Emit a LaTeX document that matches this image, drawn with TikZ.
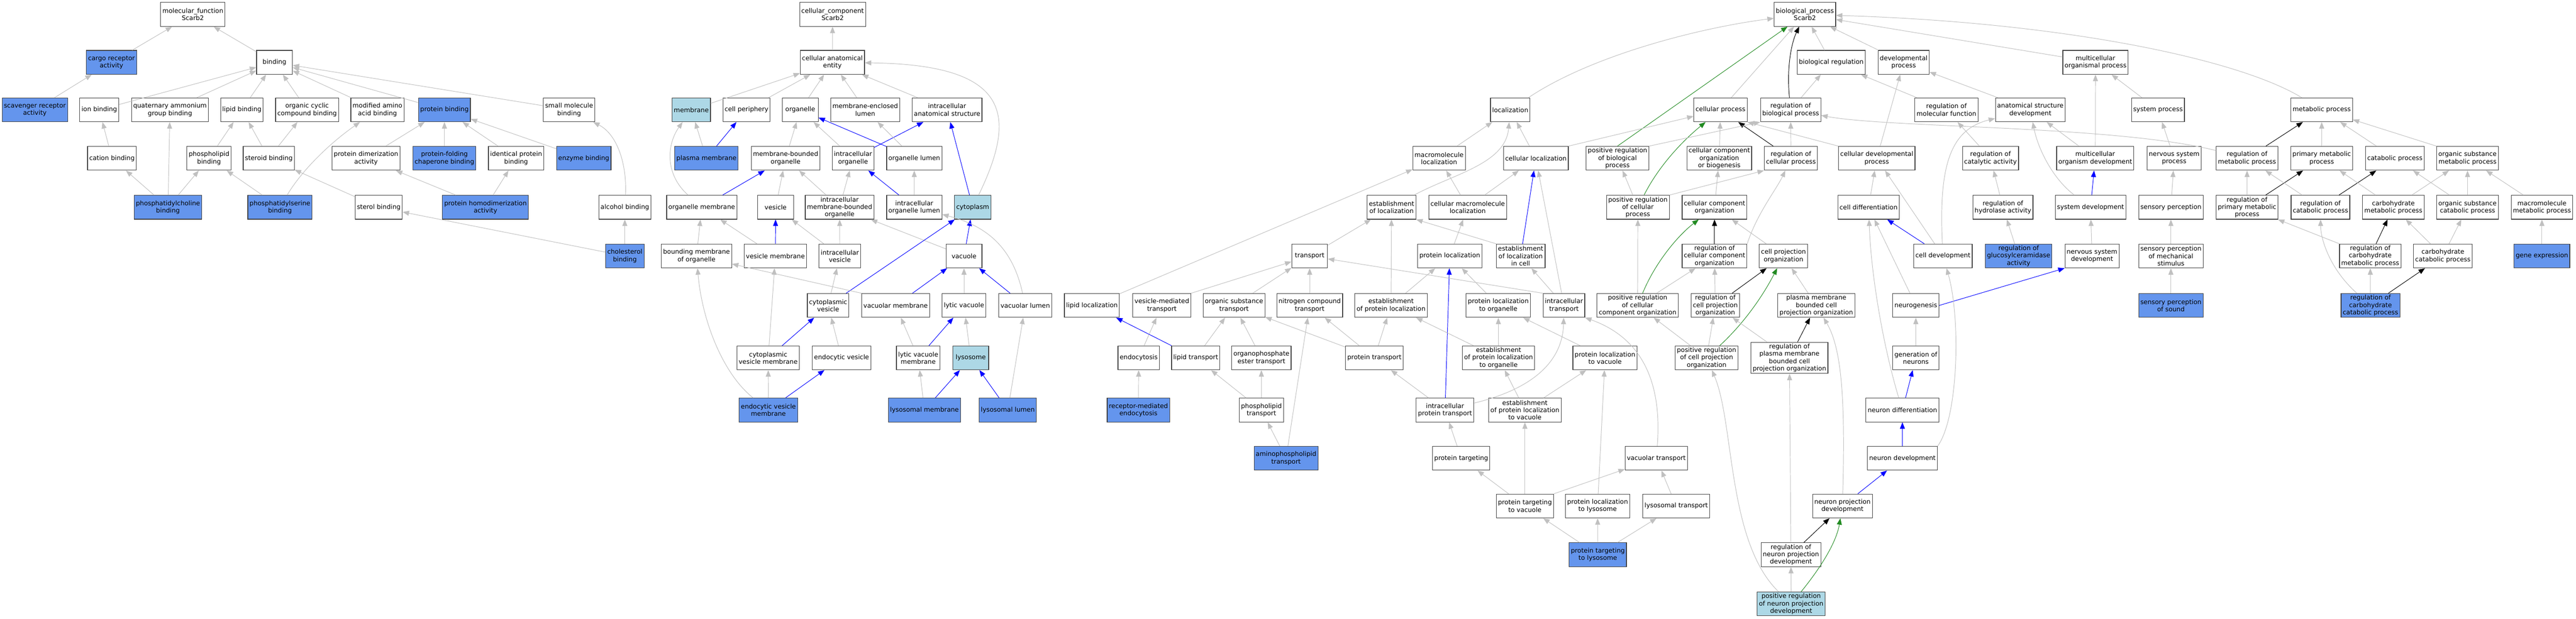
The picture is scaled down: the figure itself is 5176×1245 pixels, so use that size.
\documentclass[tikz,border=0pt]{standalone}
\usepackage{fontspec}
\setmainfont{DejaVu Sans}
\usepackage{xcolor}
\usetikzlibrary{arrows.meta}
\definecolor{hitblue}{RGB}{100,149,237}
\definecolor{seedblue}{RGB}{173,216,230}
\definecolor{edgegray}{RGB}{192,192,192}
\definecolor{forest}{RGB}{34,139,34}

\begin{document}
\begin{tikzpicture}[x=1pt,y=1pt,yscale=-1,xscale=1,
	term/.style={draw=black!75, line width=1.2pt, fill=white, minimum width=72pt, minimum height=48pt, inner xsep=3.5pt, inner ysep=3pt, align=center, font=\fontsize{12.8}{14.7}\selectfont},
	hit/.style={term, fill=hitblue},
	seed/.style={term, fill=seedblue},
	isa/.style={edgegray, line width=1pt, -{Triangle[length=13pt,width=10pt]}},
	partof/.style={isa, blue},
	regs/.style={isa, black},
	posreg/.style={isa, forest}]
	%set diagram size: 5176 x 1245
	\useasboundingbox[fill=white] (0,0) rectangle (5176,1245);
	
	% Text Nodes -- molecular function
	\node[term] (mf) at (387.5,29) {molecular\_function\\Scarb2};
	\node[hit] (cargo) at (224,125.5) {cargo receptor\\activity};
	\node[term] (bind) at (551.5,125.5) {binding};
	\node[hit] (scav) at (70,221) {scavenger receptor\\activity};
	\node[term] (ionb) at (199.5,221) {ion binding};
	\node[term] (quat) at (341.5,221) {quaternary ammonium\\group binding};
	\node[term] (lipb) at (486,221) {lipid binding};
	\node[term] (occb) at (617,221) {organic cyclic\\compound binding};
	\node[term] (modaa) at (758.5,221) {modified amino\\acid binding};
	\node[hit] (protb) at (893,221) {protein binding};
	\node[term] (smb) at (1143.5,221) {small molecule\\binding};
	\node[term] (catb) at (225,318.5) {cation binding};
	\node[term] (phlb) at (420,318.5) {phospholipid\\binding};
	\node[term] (stdb) at (540,318.5) {steroid binding};
	\node[term] (pda) at (735.5,318.5) {protein dimerization\\activity};
	\node[hit] (pfcb) at (893,318.5) {protein-folding\\chaperone binding};
	\node[term] (ipb) at (1037,318.5) {identical protein\\binding};
	\node[hit] (enzb) at (1173,318.5) {enzyme binding};
	\node[hit] (pcb) at (337.5,417) {phosphatidylcholine\\binding};
	\node[hit] (psb) at (562.5,417) {phosphatidylserine\\binding};
	\node[term] (strb) at (761,417) {sterol binding};
	\node[hit] (phda) at (975.5,417) {protein homodimerization\\activity};
	\node[term] (alcb) at (1255.5,417) {alcohol binding};
	\node[hit] (cholb) at (1255.5,515) {cholesterol\\binding};
	
	% Text Nodes -- cellular component
	\node[term] (cc) at (1673,29) {cellular\_component\\Scarb2};
	\node[term] (cae) at (1672.5,125.5) {cellular anatomical\\entity};
	\node[seed] (memb) at (1389,221) {membrane};
	\node[term] (cperi) at (1500,221) {cell periphery};
	\node[term] (org) at (1608,221) {organelle};
	\node[term] (mel) at (1738.5,221) {membrane-enclosed\\lumen};
	\node[term] (ias) at (1903,221) {intracellular\\anatomical structure};
	\node[hit] (pm) at (1419.5,318.5) {plasma membrane};
	\node[term] (mbo) at (1578.5,318.5) {membrane-bounded\\organelle};
	\node[term] (io) at (1714,318.5) {intracellular\\organelle};
	\node[term] (ol) at (1837,318.5) {organelle lumen};
	\node[term] (om) at (1410,417) {organelle membrane};
	\node[term] (ves) at (1558.5,417) {vesicle};
	\node[term] (imbo) at (1687,417) {intracellular\\membrane-bounded\\organelle};
	\node[term] (iol) at (1837,417) {intracellular\\organelle lumen};
	\node[seed] (cyto) at (1954.5,417) {cytoplasm};
	\node[term] (bmo) at (1399.5,515) {bounding membrane\\of organelle};
	\node[term] (vm) at (1558,515) {vesicle membrane};
	\node[term] (iv) at (1687.5,515) {intracellular\\vesicle};
	\node[term] (vac) at (1937,515) {vacuole};
	\node[term] (cv) at (1664,614.5) {cytoplasmic\\vesicle};
	\node[term] (vacm) at (1799.5,614.5) {vacuolar membrane};
	\node[term] (lv) at (1937,614.5) {lytic vacuole};
	\node[term] (vacl) at (2060,614.5) {vacuolar lumen};
	\node[term] (cvm) at (1543.5,720) {cytoplasmic\\vesicle membrane};
	\node[term] (ev) at (1691,720) {endocytic vesicle};
	\node[term] (lvm) at (1845,720) {lytic vacuole\\membrane};
	\node[seed] (lys) at (1950.5,720) {lysosome};
	\node[hit] (evm) at (1544,825) {endocytic vesicle\\membrane};
	\node[hit] (lysm) at (1857.5,825) {lysosomal membrane};
	\node[hit] (lysl) at (2025,825) {lysosomal lumen};
	
	% Text Nodes -- biological process
	\node[term] (bp) at (3626.5,29) {biological\_process\\Scarb2};
	\node[term] (breg) at (3679.5,125.5) {biological regulation};
	\node[term] (devp) at (3825,125.5) {developmental\\process};
	\node[term] (mop) at (4210.5,125.5) {multicellular\\organismal process};
	\node[term] (loc) at (3034.5,221) {localization};
	\node[term] (cp) at (3457,221) {cellular process};
	\node[term] (rbp) at (3598,221) {regulation of\\biological process};
	\node[term] (rmf) at (3911,221) {regulation of\\molecular function};
	\node[term] (asd) at (4079.5,221) {anatomical structure\\development};
	\node[term] (sysp) at (4336,221) {system process};
	\node[term] (mp) at (4665,221) {metabolic process};
	\node[term] (macloc) at (2891.5,318.5) {macromolecule\\localization};
	\node[term] (cloc) at (3086,318.5) {cellular localization};
	\node[term] (prbp) at (3250,318.5) {positive regulation\\of biological\\process};
	\node[term] (ccob) at (3454.5,318.5) {cellular component\\organization\\or biogenesis};
	\node[term] (rcp) at (3598.5,318.5) {regulation of\\cellular process};
	\node[term] (cdp) at (3771,318.5) {cellular developmental\\process};
	\node[term] (rca) at (3999.5,318.5) {regulation of\\catalytic activity};
	\node[term] (mod) at (4210,318.5) {multicellular\\organism development};
	\node[term] (nsp) at (4368.5,318.5) {nervous system\\process};
	\node[term] (rmp) at (4515,318.5) {regulation of\\metabolic process};
	\node[term] (pmp) at (4665,318.5) {primary metabolic\\process};
	\node[term] (catp) at (4812,318.5) {catabolic process};
	\node[term] (osmp) at (4958,318.5) {organic substance\\metabolic process};
	\node[term] (estloc) at (2796,417) {establishment\\of localization};
	\node[term] (cmloc) at (2949,417) {cellular macromolecule\\localization};
	\node[term] (pcp) at (3291,417) {positive regulation\\of cellular\\process};
	\node[term] (cco) at (3445,417) {cellular component\\organization};
	\node[term] (cdiff) at (3754.5,417) {cell differentiation};
	\node[term] (rha) at (4024.5,417) {regulation of\\hydrolase activity};
	\node[term] (sysdev) at (4200.5,417) {system development};
	\node[term] (sp) at (4362,417) {sensory perception};
	\node[term] (rpmp) at (4515,417) {regulation of\\primary metabolic\\process};
	\node[term] (rcatp) at (4662.5,417) {regulation of\\catabolic process};
	\node[term] (chmp) at (4809,417) {carbohydrate\\metabolic process};
	\node[term] (oscp) at (4958,417) {organic substance\\catabolic process};
	\node[term] (mmp) at (5107.5,417) {macromolecule\\metabolic process};
	\node[term] (transp) at (2631.5,515) {transport};
	\node[term] (ploc) at (2913,515) {protein localization};
	\node[term] (elc) at (3055.5,515) {establishment\\of localization\\in cell};
	\node[term] (rcco) at (3445,515) {regulation of\\cellular component\\organization};
	\node[term] (cpo) at (3583.5,515) {cell projection\\organization};
	\node[term] (cdev) at (3904,515) {cell development};
	\node[hit] (rga) at (4056,515) {regulation of\\glucosylceramidase\\activity};
	\node[term] (nsd) at (4203.5,515) {nervous system\\development};
	\node[term] (spms) at (4362,515) {sensory perception\\of mechanical\\stimulus};
	\node[term] (rchmp) at (4762.5,515) {regulation of\\carbohydrate\\metabolic process};
	\node[term] (chcp) at (4908.5,515) {carbohydrate\\catabolic process};
	\node[hit] (genex) at (5107.5,515) {gene expression};
	\node[term] (lipl) at (2194,614.5) {lipid localization};
	\node[term] (vmt) at (2334.5,614.5) {vesicle-mediated\\transport};
	\node[term] (ost) at (2479.5,614.5) {organic substance\\transport};
	\node[term] (nct) at (2631.5,614.5) {nitrogen compound\\transport};
	\node[term] (epl) at (2795,614.5) {establishment\\of protein localization};
	\node[term] (plo) at (3010.5,614.5) {protein localization\\to organelle};
	\node[term] (itr) at (3142.5,614.5) {intracellular\\transport};
	\node[term] (prcco) at (3290.5,614.5) {positive regulation\\of cellular\\component organization};
	\node[term] (rcpo) at (3446.5,614.5) {regulation of\\cell projection\\organization};
	\node[term] (pmbcpo) at (3649.5,614.5) {plasma membrane\\bounded cell\\projection organization};
	\node[term] (neurog) at (3849.5,614.5) {neurogenesis};
	\node[hit] (spsound) at (4362,614.5) {sensory perception\\of sound};
	\node[hit] (rchcp) at (4763,614.5) {regulation of\\carbohydrate\\catabolic process};
	\node[term] (endo) at (2288,720) {endocytosis};
	\node[term] (lipt) at (2402.5,720) {lipid transport};
	\node[term] (opet) at (2534.5,720) {organophosphate\\ester transport};
	\node[term] (prott) at (2761.5,720) {protein transport};
	\node[term] (eplo) at (3011,720) {establishment\\of protein localization\\to organelle};
	\node[term] (plv) at (3225,720) {protein localization\\to vacuole};
	\node[term] (prcpo) at (3429,720) {positive regulation\\of cell projection\\organization};
	\node[term] (rpmbcpo) at (3595.5,720) {regulation of\\plasma membrane\\bounded cell\\projection organization};
	\node[term] (gen) at (3849.5,720) {generation of\\neurons};
	\node[hit] (rme) at (2287.5,825) {receptor-mediated\\endocytosis};
	\node[term] (phlt) at (2534.5,825) {phospholipid\\transport};
	\node[term] (ipt) at (2903.5,825) {intracellular\\protein transport};
	\node[term] (eplv) at (3064,825) {establishment\\of protein localization\\to vacuole};
	\node[term] (ndiff) at (3822.5,825) {neuron differentiation};
	\node[hit] (apt) at (2584,922) {aminophospholipid\\transport};
	\node[term] (ptarg) at (2936,922) {protein targeting};
	\node[term] (vact) at (3328,922) {vacuolar transport};
	\node[term] (ndev) at (3822.5,922) {neuron development};
	\node[term] (ptv) at (3064,1018) {protein targeting\\to vacuole};
	\node[term] (plly) at (3210,1018) {protein localization\\to lysosome};
	\node[term] (lyst) at (3368,1018) {lysosomal transport};
	\node[term] (npd) at (3702,1018) {neuron projection\\development};
	\node[hit] (ptl) at (3210.5,1116) {protein targeting\\to lysosome};
	\node[term] (rnpd) at (3598.5,1116) {regulation of\\neuron projection\\development};
	\node[seed] (prnpd) at (3599,1215) {positive regulation\\of neuron projection\\development};
	
	%Straight Lines -- molecular function
	\draw[isa] (cargo) -- (mf);
	\draw[isa] (bind) -- (mf);
	\draw[isa] (scav) -- (cargo);
	\draw[isa] (ionb) -- (bind);
	\draw[isa] (quat) -- (bind);
	\draw[isa] (lipb) -- (bind);
	\draw[isa] (occb) -- (bind);
	\draw[isa] (modaa) -- (bind);
	\draw[isa] (protb) -- (bind);
	\draw[isa] (smb) -- (bind);
	\draw[isa] (catb) -- (ionb);
	\draw[isa] (phlb) -- (lipb);
	\draw[isa] (stdb) -- (lipb);
	\draw[isa] (stdb) -- (occb);
	\draw[isa] (pda) -- (protb);
	\draw[isa] (pfcb) -- (protb);
	\draw[isa] (ipb) -- (protb);
	\draw[isa] (enzb) -- (protb);
	\draw[isa] (pcb) -- (catb);
	\draw[isa] (pcb) -- (quat);
	\draw[isa] (pcb) -- (phlb);
	\draw[isa] (psb) -- (phlb);
	\draw[isa] (psb) .. controls (605,345) and (660,290) .. (modaa);
	\draw[isa] (strb) -- (stdb);
	\draw[isa] (phda) -- (pda);
	\draw[isa] (phda) -- (ipb);
	\draw[isa] (cholb) -- (strb);
	\draw[isa] (cholb) -- (alcb);
	\draw[isa] (alcb) .. controls (1260,330) and (1240,270) .. (smb);
	
	%Straight Lines -- cellular component
	\draw[isa] (cae) -- (cc);
	\draw[isa] (memb) -- (cae);
	\draw[isa] (cperi) -- (cae);
	\draw[isa] (org) -- (cae);
	\draw[isa] (mel) -- (cae);
	\draw[isa] (ias) -- (cae);
	\draw[isa] (cyto) .. controls (2045,230) and (2030,130) .. (cae);
	\draw[isa] (pm) -- (memb);
	\draw[partof] (pm) -- (cperi);
	\draw[isa] (mbo) -- (org);
	\draw[isa] (io) -- (org);
	\draw[partof] (io) -- (ias);
	\draw[isa] (ol) -- (mel);
	\draw[partof] (ol) -- (org);
	\draw[isa] (om) .. controls (1335,350) and (1340,290) .. (memb);
	\draw[partof] (om) -- (mbo);
	\draw[isa] (ves) -- (mbo);
	\draw[isa] (imbo) -- (mbo);
	\draw[isa] (imbo) -- (io);
	\draw[partof] (iol) -- (io);
	\draw[isa] (iol) -- (ol);
	\draw[partof] (cyto) -- (ias);
	\draw[isa] (bmo) -- (om);
	\draw[isa] (vm) -- (om);
	\draw[partof] (vm) -- (ves);
	\draw[isa] (iv) -- (ves);
	\draw[isa] (iv) -- (imbo);
	\draw[isa] (vac) -- (imbo);
	\draw[partof] (vac) -- (cyto);
	\draw[isa] (cv) -- (iv);
	\draw[partof] (cv) -- (cyto);
	\draw[isa] (vacm.north west) -- (bmo);
	\draw[partof] (vacm) -- (vac);
	\draw[isa] (lv) -- (vac);
	\draw[partof] (vacl) -- (vac);
	\draw[isa] (vacl) .. controls (2035,500) and (1985,455) .. (iol);
	\draw[isa] (cvm) -- (vm);
	\draw[partof] (cvm) -- (cv);
	\draw[isa] (ev) -- (cv);
	\draw[isa] (lvm) -- (vacm);
	\draw[partof] (lvm) -- (lv);
	\draw[isa] (lys) -- (lv);
	\draw[isa] (evm) .. controls (1450,750) and (1410,640) .. (bmo);
	\draw[isa] (evm) -- (cvm);
	\draw[partof] (evm) -- (ev);
	\draw[isa] (lysm) -- (lvm);
	\draw[partof] (lysm) -- (lys);
	\draw[partof] (lysl) -- (lys);
	\draw[isa] (lysl) -- (vacl);
	
	%Straight Lines -- biological process
	\draw[isa] (loc) .. controls (3200,110) and (3420,55) .. (bp);
	\draw[isa] (cp) -- (bp);
	\draw[regs] (rbp) .. controls (3590,140) and (3598,90) .. (bp);
	\draw[isa] (breg) -- (bp);
	\draw[isa] (devp) -- (bp);
	\draw[posreg] (prbp.north) -- (bp);
	\draw[isa] (mop) -- (bp);
	\draw[isa] (mp) .. controls (4500,120) and (4150,45) .. (bp);
	\draw[isa] (rbp) -- (breg);
	\draw[isa] (rmf) -- (breg);
	\draw[isa] (cdp) -- (devp);
	\draw[isa] (asd) -- (devp);
	\draw[isa] (sysp) -- (mop);
	\draw[isa] (mod) -- (mop);
	\draw[isa] (macloc) -- (loc);
	\draw[isa] (cloc) -- (loc);
	\draw[isa] (estloc) .. controls (2920,350) and (3025,330) .. (loc);
	\draw[isa] (cloc.north east) -- (cp);
	\draw[isa] (ccob) -- (cp);
	\draw[regs] (rcp) -- (cp);
	\draw[isa] (cdp.north west) -- (cp.south east);
	\draw[posreg] (pcp) .. controls (3335,330) and (3385,280) .. (cp);
	\draw[isa] (prbp.north east) -- (rbp.south west);
	\draw[isa] (rcp) -- (rbp);
	\draw[isa] (rmp) .. controls (4250,252) and (3800,258) .. (rbp);
	\draw[isa] (rca) -- (rmf);
	\draw[isa] (mod) -- (asd);
	\draw[isa] (sysdev) .. controls (4125,360) and (4095,300) .. (asd);
	\draw[isa] (cdev) .. controls (3895,330) and (3920,260) .. (asd);
	\draw[isa] (nsp) -- (sysp);
	\draw[regs] (rmp) -- (mp);
	\draw[isa] (pmp) -- (mp);
	\draw[isa] (catp) -- (mp);
	\draw[isa] (osmp.north west) -- (mp);
	\draw[isa] (cmloc) -- (macloc);
	\draw[isa] (lipl) -- (macloc);
	\draw[isa] (cmloc) -- (cloc);
	\draw[partof] (elc) -- (cloc);
	\draw[isa] (itr) -- (cloc);
	\draw[isa] (pcp) -- (prbp);
	\draw[isa] (pcp.north east) -- (rcp.south west);
	\draw[isa] (cco) -- (ccob);
	\draw[isa] (rcco.north east) .. controls (3530,430) and (3570,380) .. (rcp);
	\draw[isa] (cdiff) -- (cdp);
	\draw[isa] (cdev) -- (cdp);
	\draw[isa] (rha) -- (rca);
	\draw[partof] (sysdev) -- (mod);
	\draw[isa] (sp) -- (nsp);
	\draw[isa] (rpmp) -- (rmp);
	\draw[regs] (rpmp) -- (pmp);
	\draw[isa] (rcatp) -- (rmp);
	\draw[regs] (rcatp) -- (catp);
	\draw[isa] (chmp) -- (pmp);
	\draw[isa] (chmp) -- (osmp);
	\draw[isa] (oscp) -- (catp);
	\draw[isa] (oscp) -- (osmp);
	\draw[isa] (mmp) -- (osmp);
	\draw[isa] (transp) -- (estloc);
	\draw[isa] (epl) -- (estloc);
	\draw[isa] (elc.north west) -- (estloc.south east);
	\draw[isa] (ploc) -- (cmloc);
	\draw[isa] (epl) -- (ploc);
	\draw[isa] (plo) -- (ploc);
	\draw[partof] (ipt) -- (ploc);
	\draw[isa] (itr) -- (elc);
	\draw[regs] (rcco) -- (cco);
	\draw[isa] (cpo) -- (cco);
	\draw[posreg] (prcco) .. controls (3325,530) and (3370,475) .. (cco);
	\draw[isa] (prcco) -- (pcp);
	\draw[isa] (prcco) -- (rcco);
	\draw[isa] (rcpo) -- (rcco);
	\draw[regs] (rcpo) -- (cpo);
	\draw[posreg] (prcpo) .. controls (3515,640) and (3550,580) .. (cpo);
	\draw[isa] (pmbcpo) -- (cpo);
	\draw[partof] (cdev) -- (cdiff);
	\draw[isa] (neurog) -- (cdiff);
	\draw[isa] (ndiff) .. controls (3785,700) and (3760,560) .. (cdiff);
	\draw[isa] (rga) -- (rha);
	\draw[isa] (nsd) -- (sysdev);
	\draw[isa] (spms) -- (sp);
	\draw[isa] (rchmp) -- (rpmp);
	\draw[regs] (rchmp) -- (chmp);
	\draw[isa] (chcp) -- (chmp);
	\draw[isa] (chcp) -- (oscp);
	\draw[isa] (genex) -- (mmp);
	\draw[isa] (vmt.north east) -- (transp);
	\draw[isa] (ost) -- (transp);
	\draw[isa] (nct) -- (transp);
	\draw[isa] (itr.north west) -- (transp);
	\draw[isa] (eplo) -- (epl);
	\draw[isa] (prott) -- (epl);
	\draw[isa] (eplo) -- (plo);
	\draw[isa] (plv) -- (plo);
	\draw[isa] (ipt) .. controls (3090,780) and (3140,720) .. (itr);
	\draw[isa] (vact) .. controls (3340,770) and (3300,680) .. (itr.south east);
	\draw[isa] (prcpo) -- (prcco);
	\draw[isa] (prcpo) -- (rcpo);
	\draw[isa] (rpmbcpo) -- (rcpo);
	\draw[regs] (rpmbcpo) -- (pmbcpo);
	\draw[isa] (npd) .. controls (3708,800) and (3700,700) .. (pmbcpo);
	\draw[isa] (gen) -- (neurog);
	\draw[partof] (neurog.east) -- (nsd.south west);
	\draw[isa] (spsound) -- (spms);
	\draw[isa] (rchcp) .. controls (4680,540) and (4663,480) .. (rcatp);
	\draw[isa] (rchcp) -- (rchmp);
	\draw[regs] (rchcp) -- (chcp);
	\draw[isa] (endo) -- (vmt);
	\draw[partof] (lipt) -- (lipl);
	\draw[isa] (lipt) -- (ost);
	\draw[isa] (opet) -- (ost);
	\draw[isa] (prott) -- (ost);
	\draw[isa] (prott) -- (nct);
	\draw[isa] (eplv) -- (eplo);
	\draw[isa] (eplv) -- (plv);
	\draw[partof] (ndiff) -- (gen);
	\draw[isa] (rme) -- (endo);
	\draw[isa] (phlt) -- (lipt);
	\draw[isa] (phlt) -- (opet);
	\draw[isa] (ipt) -- (prott);
	\draw[isa] (ptarg) -- (ipt);
	\draw[partof] (ndev) -- (ndiff);
	\draw[isa] (ndev.north east) .. controls (3935,840) and (3940,640) .. (cdev);
	\draw[isa] (apt) -- (phlt);
	\draw[isa] (apt) -- (nct);
	\draw[isa] (ptv) -- (ptarg);
	\draw[isa] (ptv) -- (eplv);
	\draw[isa] (ptv.north east) -- (vact);
	\draw[isa] (plly) -- (plv);
	\draw[isa] (lyst) -- (vact);
	\draw[partof] (npd) -- (ndev);
	\draw[isa] (ptl) -- (ptv);
	\draw[isa] (ptl) -- (plly);
	\draw[isa] (ptl) -- (lyst);
	\draw[regs] (rnpd) -- (npd);
	\draw[isa] (rnpd) -- (rpmbcpo);
	\draw[isa] (prnpd) -- (rnpd);
	\draw[posreg] (prnpd) .. controls (3660,1140) and (3690,1090) .. (npd);
	\draw[isa] (prnpd) .. controls (3470,1090) and (3485,850) .. (prcpo);
	
\end{tikzpicture}
\end{document}
